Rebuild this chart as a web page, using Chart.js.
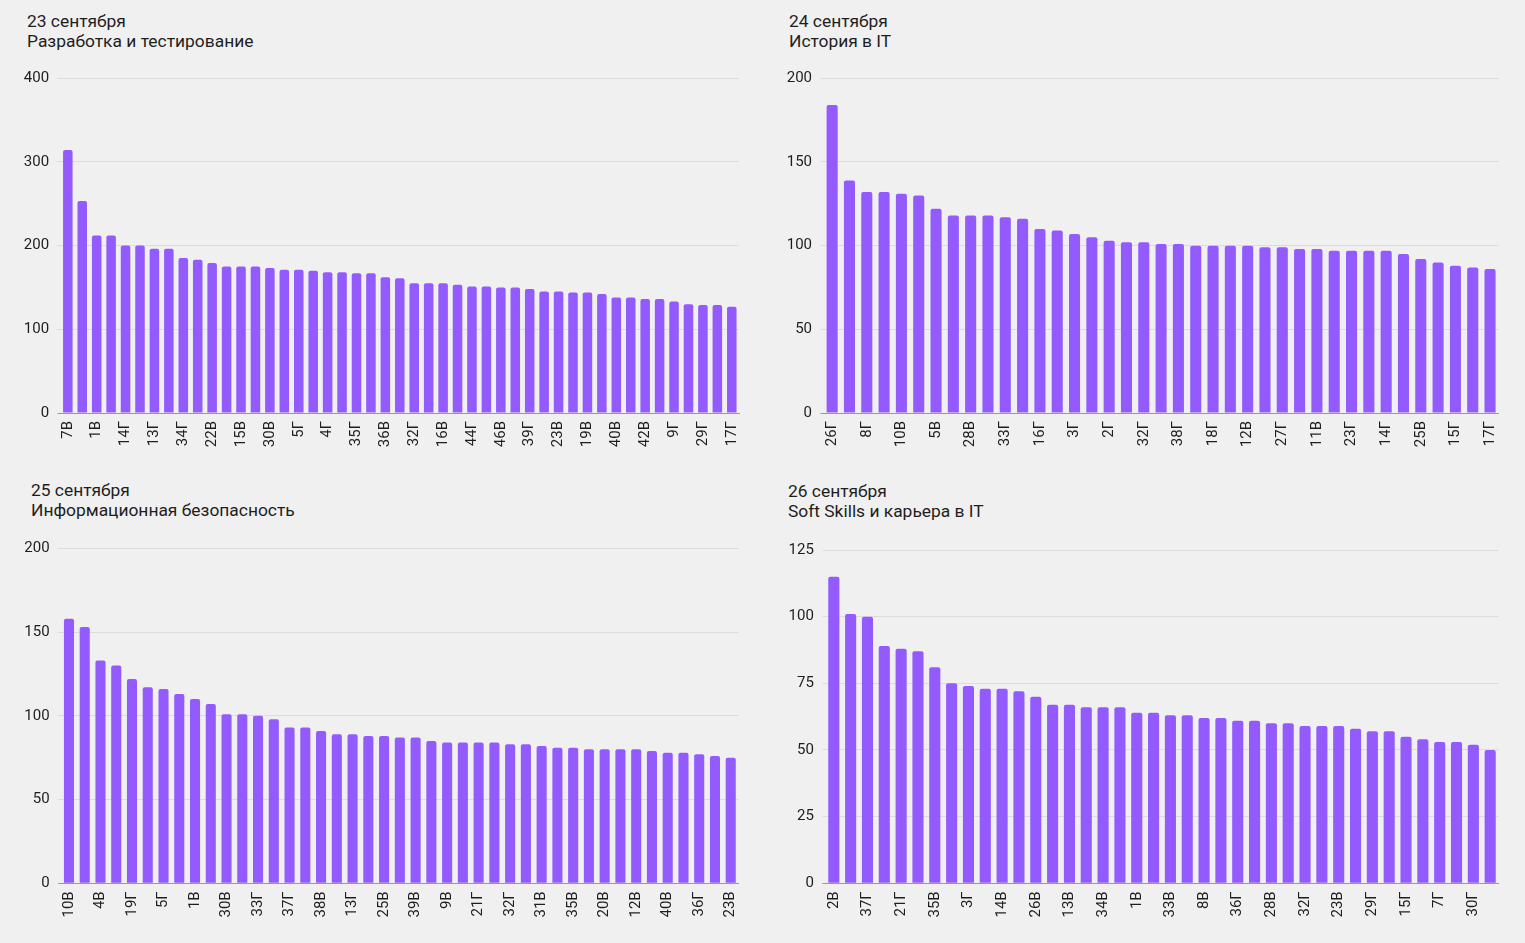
<!DOCTYPE html>
<html><head><meta charset="utf-8">
<script src="https://cdn.jsdelivr.net/npm/chart.js@4.4.1/dist/chart.umd.min.js"></script>
<style>
html,body{margin:0;padding:0;}
body{background:#f0f0f0;width:1525px;height:943px;overflow:hidden;position:relative;font-family:Roboto,sans-serif;}
.title{position:absolute;font-size:17.4px;line-height:20px;color:#1e1e1e;white-space:nowrap;}
canvas{position:absolute;}
</style></head><body>
<div class="title" style="left:27px;top:11px">23 сентября<br>Разработка и тестирование</div>
<div class="title" style="left:789px;top:11px">24 сентября<br>История в IT</div>
<div class="title" style="left:31px;top:480px">25 сентября<br>Информационная безопасность</div>
<div class="title" style="left:788px;top:481px">26 сентября<br>Soft Skills и карьера в IT</div>
<canvas id="c1" width="760" height="420" style="left:0;top:60px"></canvas>
<canvas id="c2" width="760" height="420" style="left:760px;top:60px"></canvas>
<canvas id="c3" width="760" height="410" style="left:0;top:530px"></canvas>
<canvas id="c4" width="760" height="410" style="left:760px;top:530px"></canvas>
<script>
// Visible tick labels (every other category is labelled in the source chart)
const tickLabels1 = ['7В','1В','14Г','13Г','34Г','22В','15В','30В','5Г','4Г','35Г','36В','32Г','16В','44Г','46В','39Г','23В','19В','40В','42В','9Г','29Г','17Г'];
const values1 = [314,253,212,212,200,200,196,196,185,183,179,175,175,175,173,171,171,170,168,168,167,167,162,161,155,155,155,153,151,151,150,150,148,145,145,144,144,142,138,138,136,136,133,130,129,129,127];

const tickLabels2 = ['26Г','8Г','10В','5В','28В','33Г','16Г','3Г','2Г','32Г','38Г','18Г','12В','27Г','11В','23Г','14Г','25В','15Г','17Г'];
const values2 = [184,139,132,132,131,130,122,118,118,118,117,116,110,109,107,105,103,102,102,101,101,100,100,100,100,99,99,98,98,97,97,97,97,95,92,90,88,87,86];

const tickLabels3 = ['10В','4В','19Г','5Г','1В','30В','33Г','37Г','38В','13Г','25В','39В','9В','21Г','32Г','31В','35В','20В','12В','40В','36Г','23В'];
const values3 = [158,153,133,130,122,117,116,113,110,107,101,101,100,98,93,93,91,89,89,88,88,87,87,85,84,84,84,84,83,83,82,81,81,80,80,80,80,79,78,78,77,76,75];

const tickLabels4 = ['2В','37Г','21Г','35В','3Г','14В','26В','13В','34В','1В','33В','8В','36Г','28В','32Г','23В','29Г','15Г','7Г','30Г'];
const values4 = [115,101,100,89,88,87,81,75,74,73,73,72,70,67,67,66,66,66,64,64,63,63,62,62,61,61,60,60,59,59,59,58,57,57,55,54,53,53,52,50];

const BAR = '#935bfe';
const FONT = {family:'Roboto', size:15};
const TXT = '#1e1e1e';

function cats(values, ticks){
  return values.map((_, i) => (i % 2 === 0 && ticks[i/2] !== undefined) ? ticks[i/2] : '');
}

function make(id, values, ticks, cfg){
  new Chart(document.getElementById(id), {
    type:'bar',
    data:{labels:cats(values, ticks), datasets:[{data:values, backgroundColor:BAR, borderRadius:2, borderSkipped:'bottom', barPercentage:cfg.bp, categoryPercentage:1}]},
    options:{
      responsive:false, animation:false, devicePixelRatio:1,
      layout:{padding:{top:cfg.pt, right:cfg.pr, left:0, bottom:0}},
      plugins:{legend:{display:false}, tooltip:{enabled:false}},
      scales:{
        x:{
          grid:{display:false, drawTicks:false},
          border:{display:true, color:'#999', width:1},
          ticks:{autoSkip:false, maxRotation:90, minRotation:90, padding:8, font:FONT, color:TXT},
          afterFit:(s)=>{ s.height = cfg.xh; }
        },
        y:{
          min:0, max:cfg.max,
          border:{display:false},
          grid:{color:(c)=> (c.tick && c.tick.value === 0) ? '#999' : '#dcdcdc', drawTicks:true, tickLength:3, lineWidth:1},
          ticks:{stepSize:cfg.step, padding:8.5, font:FONT, color:TXT},
          afterFit:(s)=>{ s.width = cfg.yw; }
        }
      }
    }
  });
}

make('c1', values1, tickLabels1, {bp:0.66, pt:18, pr:21, xh:67, yw:60.6, max:400, step:100});
make('c2', values2, tickLabels2, {bp:0.64, pt:18.3, pr:21.3, xh:67, yw:63.5, max:200, step:50});
make('c3', values3, tickLabels3, {bp:0.64, pt:18.3, pr:21.4, xh:56.7, yw:61.1, max:200, step:50});
make('c4', values4, tickLabels4, {bp:0.66, pt:20, pr:21.4, xh:56.7, yw:65.4, max:125, step:25});
</script>
</body></html>
